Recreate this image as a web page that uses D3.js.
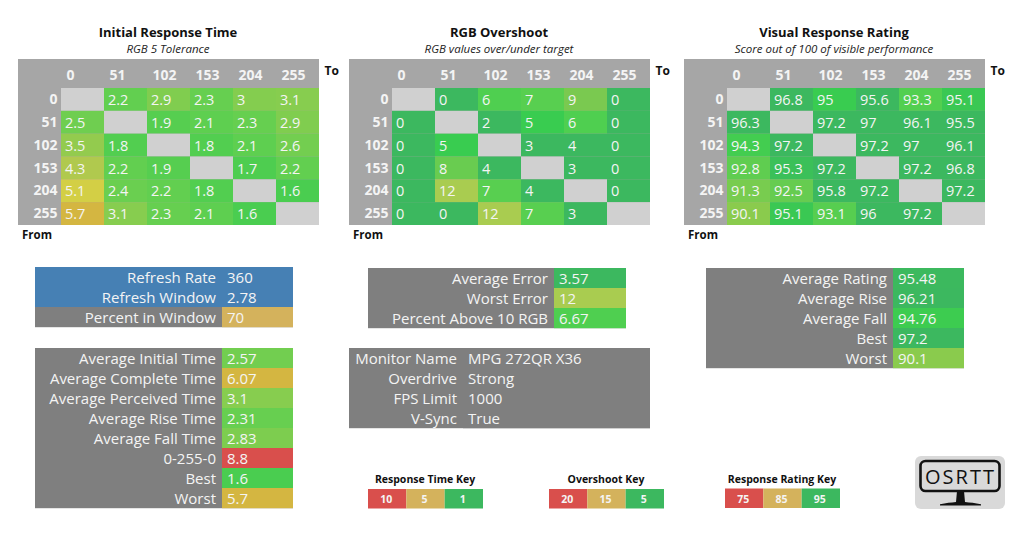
<!DOCTYPE html>
<html><head><meta charset="utf-8">
<script src="https://cdn.jsdelivr.net/npm/d3@7"></script>
<style>html,body{margin:0;padding:0;background:#fff}svg{display:block}text{font-family:"Open Sans",sans-serif}</style>
</head><body><svg id="c" width="1024" height="552"></svg>
<script>
const levels = ["0","51","102","153","204","255"];
const initialTimes = [
 [null,2.2,2.9,2.3,3,3.1],
 [2.5,null,1.9,2.1,2.3,2.9],
 [3.5,1.8,null,1.8,2.1,2.6],
 [4.3,2.2,1.9,null,1.7,2.2],
 [5.1,2.4,2.2,1.8,null,1.6],
 [5.7,3.1,2.3,2.1,1.6,null]];
const overshoot = [
 [null,0,6,7,9,0],
 [0,null,2,5,6,0],
 [0,5,null,3,4,0],
 [0,8,4,null,3,0],
 [0,12,7,4,null,0],
 [0,0,12,7,3,null]];
const ratings = [
 [null,96.8,95,95.6,93.3,95.1],
 [96.3,null,97.2,97,96.1,95.5],
 [94.3,97.2,null,97.2,97,96.1],
 [92.8,95.3,97.2,null,97.2,96.8],
 [91.3,92.5,95.8,97.2,null,97.2],
 [90.1,95.1,93.1,96,97.2,null]];
const refreshLabels = ["Refresh Rate","Refresh Window","Percent in Window"];
const refreshValues = [360,2.78,70];
const timeLabels = ["Average Initial Time","Average Complete Time","Average Perceived Time","Average Rise Time","Average Fall Time","0-255-0","Best","Worst"];
const timeValues = [2.57,6.07,3.1,2.31,2.83,8.8,1.6,5.7];
const errorLabels = ["Average Error","Worst Error","Percent Above 10 RGB"];
const errorValues = [3.57,12,6.67];
const monitorLabels = ["Monitor Name","Overdrive","FPS Limit","V-Sync"];
const monitorValues = ["MPG 272QR X36","Strong","1000","True"];
const ratingLabels = ["Average Rating","Average Rise","Average Fall","Best","Worst"];
const ratingValues = [95.48,96.21,94.76,97.2,90.1];
const timeKey = [10,5,1];
const overshootKey = [20,15,5];
const ratingKey = [75,85,95];
const keyColors = ["#d94f4c","#d4b25c","#3cb85f"];

const timeColor = d3.scaleLinear()
  .domain([1,1.6,2.2,3,3.5,4.3,5.1,5.7,6.07,8.8])
  .range(["#3cb85f","#4acd50","#62cf50","#84cd4f","#93cb4e","#b0c94e","#d3cf45","#d4b641","#d4b641","#d94f4c"]);
const overColor = d3.scaleLinear()
  .domain([0,4,5,6,7,9,12,15,20])
  .range(["#3cb85f","#3cb85f","#39cc50","#4fcf50","#58cf50","#7ac950","#a9cc50","#d4b25c","#d94f4c"]);
const rateColor = d3.scaleLinear()
  .domain([75,85,90,92.5,93.3,95,95.5,100])
  .range(["#d94f4c","#d4b25c","#8ccb4d","#66cc50","#52cf50","#39cc50","#3cb85f","#3cb85f"]);

const svg = d3.select("#c");
const light = "#f4f4f4";

function heatmap(x0,title,sub,data,color){
  const g = svg.append("g");
  const cx = d3.scaleBand().domain(levels).range([x0+43,x0+301]);
  const cy = d3.scaleBand().domain(levels).range([88,225]);
  g.append("rect").attr("x",x0).attr("y",59).attr("width",301).attr("height",166).attr("fill","#a6a6a6");
  g.append("text").attr("x",x0+150).attr("y",37).attr("text-anchor","middle")
    .attr("font-size",13).attr("font-weight",700).attr("fill","#111").text(title);
  g.append("text").attr("x",x0+150).attr("y",53).attr("text-anchor","middle")
    .attr("font-size",11.5).attr("font-style","italic").attr("fill","#222").text(sub);
  g.append("text").attr("x",x0+306.5).attr("y",74.5).attr("font-size",12).attr("font-weight",700).attr("fill","#111").text("To");
  g.append("text").attr("x",x0+4).attr("y",239).attr("font-size",11.5).attr("font-weight",700).attr("fill","#111").text("From");
  levels.forEach(l=>{
    g.append("text").attr("x",cx(l)+5.5).attr("y",79.5)
      .attr("font-size",14).attr("font-weight",700).attr("fill",light).text(l);
    g.append("text").attr("x",x0+39.5).attr("y",cy(l)+16).attr("text-anchor","end")
      .attr("font-size",14).attr("font-weight",700).attr("fill",light).text(l);
  });
  data.forEach((row,i)=>row.forEach((v,j)=>{
    g.append("rect").attr("x",cx(levels[j])).attr("y",cy(levels[i]))
      .attr("width",cx.bandwidth()).attr("height",cy.bandwidth())
      .attr("fill",v===null?"#d0d0d0":color(v));
    if(v!==null) g.append("text").attr("x",cx(levels[j])+4).attr("y",cy(levels[i])+17)
      .attr("font-size",14.5).attr("fill",light).text(v);
  }));
}
heatmap(18,"Initial Response Time","RGB 5 Tolerance",initialTimes,timeColor);
heatmap(349,"RGB Overshoot","RGB values over/under target",overshoot,overColor);
heatmap(684,"Visual Response Rating","Score out of 100 of visible performance",ratings,rateColor);

function panel(x0,x1,xv,y0,labels,values,color,labelBg,gap){
  const y = d3.scaleBand().domain(labels).range([y0,y0+labels.length*20]);
  const g = svg.append("g");
  const valueGap = gap===undefined?5:gap;
  labels.forEach((l,i)=>{
    g.append("rect").attr("x",x0).attr("y",y(l)).attr("width",x1-x0).attr("height",20.2)
      .attr("fill",labelBg?labelBg(i):"#7f7f7f");
    const c = color(values[i],i);
    g.append("rect").attr("x",xv).attr("y",y(l)).attr("width",x1-xv).attr("height",20.2).attr("fill",c);
    g.append("text").attr("x",xv-6).attr("y",y(l)+15.5).attr("text-anchor","end")
      .attr("font-size",15).attr("fill",light).text(l);
    g.append("text").attr("x",xv+valueGap).attr("y",y(l)+15.5)
      .attr("font-size",15).attr("fill",light).text(values[i]);
  });
}
const blue="#4680b4";
panel(35,293,222,267,refreshLabels,refreshValues,(v,i)=>i<2?blue:"#d4b25c",i=>i<2?blue:"#7f7f7f");
panel(35,293,222,348,timeLabels,timeValues,v=>timeColor(v));
panel(368,626,554,268,errorLabels,errorValues,(v,i)=>i===2?"#4fcf50":overColor(v));
panel(349,650,463,348,monitorLabels,monitorValues,()=>"#7f7f7f",null,5);
panel(706,964,893,268,ratingLabels,ratingValues,v=>rateColor(v));

function key(x0,y0,title,values){
  const x = d3.scaleBand().domain(values).range([x0,x0+115]);
  const g = svg.append("g");
  g.append("text").attr("x",x0+57).attr("y",y0-6).attr("text-anchor","middle")
    .attr("font-size",10.5).attr("font-weight",700).attr("fill","#111").text(title);
  values.forEach((v,i)=>{
    g.append("rect").attr("x",x(v)).attr("y",y0).attr("width",x.bandwidth()).attr("height",19.5).attr("fill",keyColors[i]);
    g.append("text").attr("x",x(v)+x.bandwidth()/2-1).attr("y",y0+14).attr("text-anchor","middle")
      .attr("font-size",10.5).attr("font-weight",700).attr("fill",light).text(v);
  });
}
key(368,489,"Response Time Key",timeKey);
key(549,489,"Overshoot Key",overshootKey);
key(725,488.5,"Response Rating Key",ratingKey);

const logo = svg.append("g");
logo.append("rect").attr("x",915).attr("y",456).attr("width",90).attr("height",53).attr("rx",6).attr("fill","#d9d9d9");
logo.append("rect").attr("x",920.5).attr("y",461).attr("width",79).attr("height",30).attr("rx",5).attr("fill","none").attr("stroke","#111").attr("stroke-width",2.6);
logo.append("text").attr("x",960.5).attr("y",484).attr("text-anchor","middle").attr("font-size",20).attr("letter-spacing",2).attr("fill","#111").text("OSRTT");
logo.append("path").attr("d","M957 491h7l1 11c5 .5 10 1 16 2.2v1.3h-41v-1.3c6-1.2 11-1.7 16-2.2z").attr("fill","#111");
</script></body></html>
